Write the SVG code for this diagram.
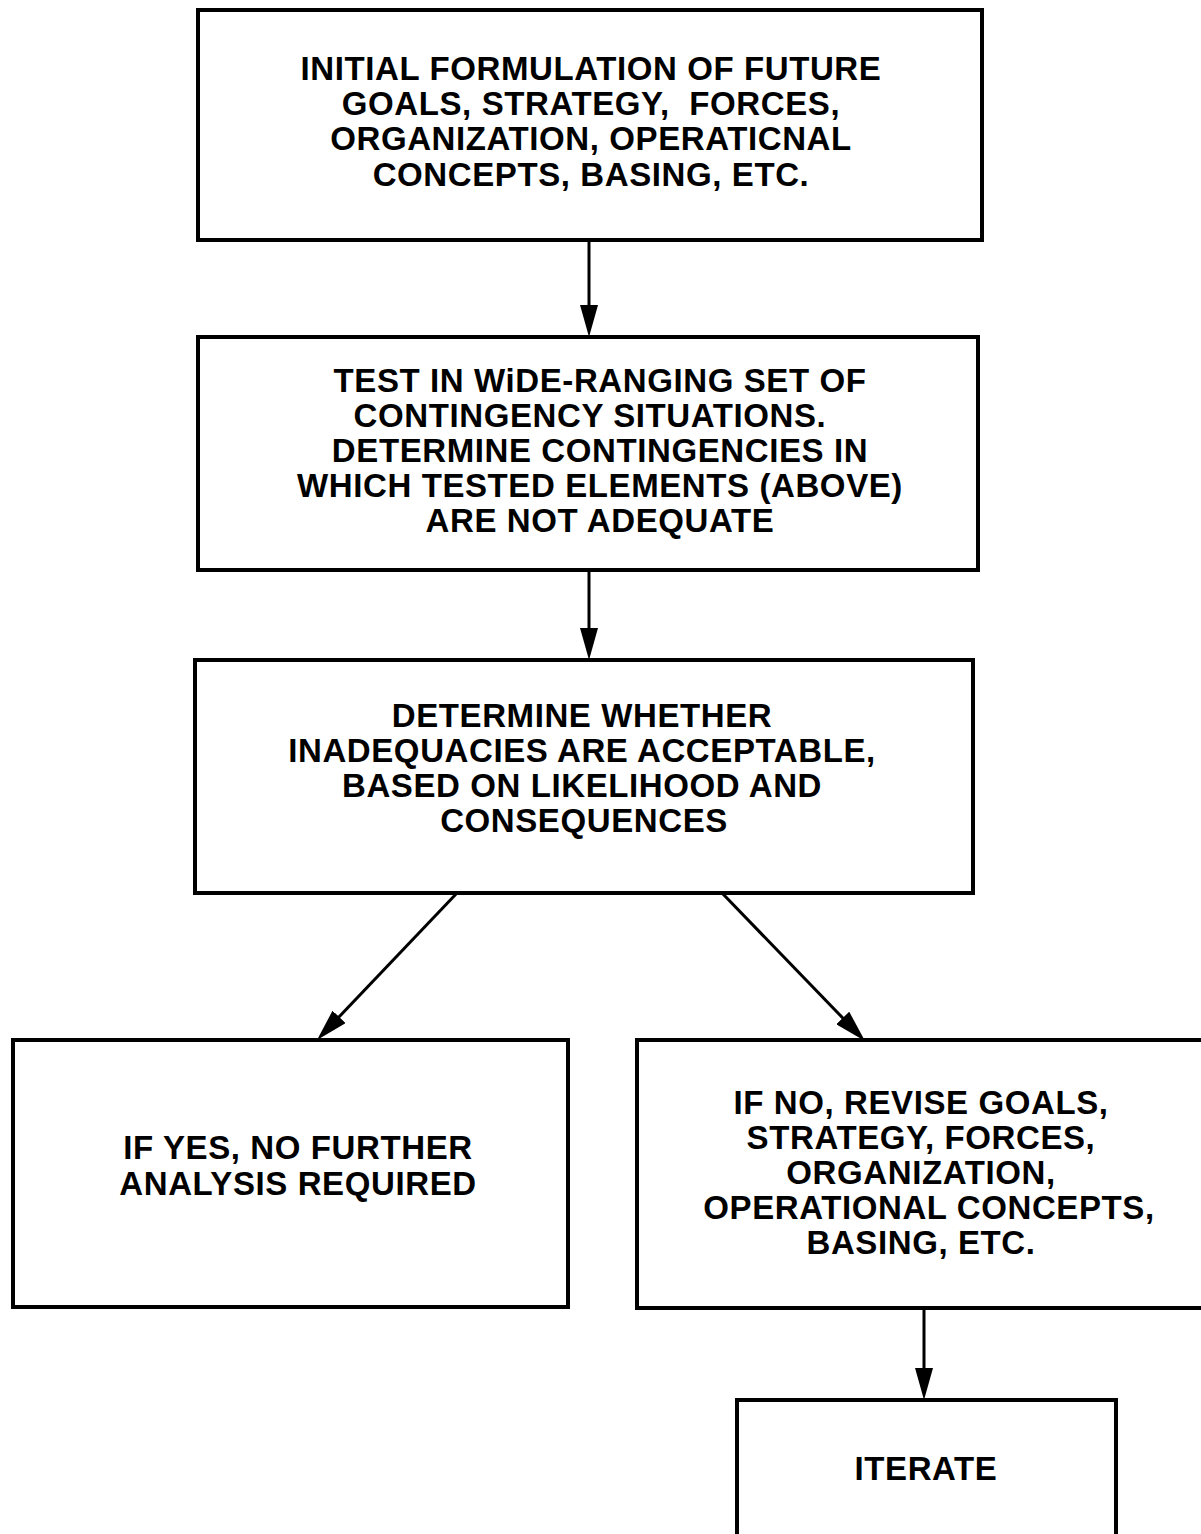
<svg xmlns="http://www.w3.org/2000/svg" width="1201" height="1534" viewBox="0 0 1201 1534">
  <style>
    .box { fill: #ffffff; stroke: #000000; stroke-width: 4; }
    .edge { fill: none; stroke: #000000; stroke-width: 3; }
    .lbl { font-family: "Liberation Sans", Arial, Helvetica, sans-serif; font-weight: bold; font-size: 33px; letter-spacing: 0.6px; fill: #000000; text-anchor: middle; }
  </style>
  <defs>
    <marker id="arrow" viewBox="0 0 32 18" markerUnits="userSpaceOnUse" markerWidth="32" markerHeight="18" refX="22" refY="9" orient="auto">
      <path d="M0,0 L32,9 L0,18 z" fill="#000000"/>
    </marker>
  </defs>
  <rect width="1201" height="1534" fill="#ffffff"/>

  <g id="n1">
    <rect class="box" x="198" y="10" width="784" height="230"/>
    <text class="lbl" x="591" y="80">INITIAL FORMULATION OF FUTURE</text>
    <text class="lbl" x="591" y="115" xml:space="preserve">GOALS, STRATEGY,  FORCES,</text>
    <text class="lbl" x="591" y="150">ORGANIZATION, OPERATICNAL</text>
    <text class="lbl" x="591" y="186">CONCEPTS, BASING, ETC.</text>
  </g>

  <g id="n2">
    <rect class="box" x="198" y="337" width="780" height="233"/>
    <text class="lbl" x="600" y="392">TEST IN WiDE-RANGING SET OF</text>
    <text class="lbl" x="590" y="427">CONTINGENCY SITUATIONS.</text>
    <text class="lbl" x="600" y="462">DETERMINE CONTINGENCIES IN</text>
    <text class="lbl" x="600" y="497">WHICH TESTED ELEMENTS (ABOVE)</text>
    <text class="lbl" x="600" y="532">ARE NOT ADEQUATE</text>
  </g>

  <g id="n3">
    <rect class="box" x="195" y="660" width="778" height="233"/>
    <text class="lbl" x="582" y="727">DETERMINE WHETHER</text>
    <text class="lbl" x="582" y="762">INADEQUACIES ARE ACCEPTABLE,</text>
    <text class="lbl" x="582" y="797">BASED ON LIKELIHOOD AND</text>
    <text class="lbl" x="584" y="832">CONSEQUENCES</text>
  </g>

  <g id="n4">
    <rect class="box" x="13" y="1040" width="555" height="267"/>
    <text class="lbl" x="298" y="1159">IF YES, NO FURTHER</text>
    <text class="lbl" x="298" y="1195">ANALYSIS REQUIRED</text>
  </g>

  <g id="n5">
    <rect class="box" x="637" y="1040" width="580" height="268"/>
    <text class="lbl" x="921" y="1114">IF NO, REVISE GOALS,</text>
    <text class="lbl" x="921" y="1149">STRATEGY, FORCES,</text>
    <text class="lbl" x="921" y="1184">ORGANIZATION,</text>
    <text class="lbl" x="929" y="1219">OPERATIONAL CONCEPTS,</text>
    <text class="lbl" x="921" y="1254">BASING, ETC.</text>
  </g>

  <g id="n6">
    <rect class="box" x="737" y="1400" width="379" height="150"/>
    <text class="lbl" x="926" y="1480">ITERATE</text>
  </g>

  <g id="connectors">
    <line class="edge" x1="589" y1="240" x2="589" y2="327" marker-end="url(#arrow)"/>
    <line class="edge" x1="589" y1="570" x2="589" y2="650" marker-end="url(#arrow)"/>
    <line class="edge" x1="457" y1="893" x2="323.9" y2="1032.8" marker-end="url(#arrow)"/>
    <line class="edge" x1="722" y1="893" x2="858.05" y2="1033.8" marker-end="url(#arrow)"/>
    <line class="edge" x1="924" y1="1308" x2="924" y2="1390" marker-end="url(#arrow)"/>
  </g>
</svg>
